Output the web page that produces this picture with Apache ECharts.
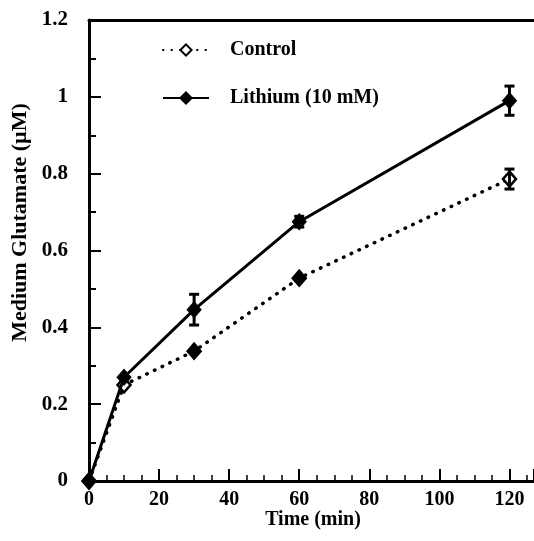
<!DOCTYPE html>
<html><head><meta charset="utf-8">
<script src="https://cdn.jsdelivr.net/npm/echarts@6/dist/echarts.min.js"></script>
<style>html,body{margin:0;padding:0;background:#fff}#c{width:534px;height:541px}</style>
</head><body><div id="c"></div>
<script>
const times = [0, 10, 30, 60, 120];
const controlValues = [0, 0.25, 0.338, 0.528, 0.786];
const controlErrors = [0, 0, 0, 0, 0.026];
const lithiumValues = [0, 0.27, 0.446, 0.675, 0.99];
const lithiumErrors = [0, 0, 0.04, 0.014, 0.038];
const xTickStep = 20;
const yTickStep = 0.2;
const xTitle = 'Time (min)';
const yTitle = 'Medium Glutamate (µM)';

const FONT = '"Liberation Serif", "Times New Roman", serif';
const chart = echarts.init(document.getElementById('c'), null, {renderer: 'canvas'});

function errData(vals, errs) {
  const out = [];
  for (let i = 0; i < times.length; i++) if (errs[i] > 0) out.push([times[i], vals[i] - errs[i], vals[i] + errs[i]]);
  return out;
}
function errSeries(vals, errs) {
  return {
    type: 'custom', silent: true, z: 5,
    data: errData(vals, errs),
    renderItem: function (params, api) {
      const lo = api.coord([api.value(0), api.value(1)]);
      const hi = api.coord([api.value(0), api.value(2)]);
      const w = 5;
      const st = {stroke: '#000', lineWidth: 3};
      return {type: 'group', children: [
        {type: 'line', shape: {x1: lo[0], y1: lo[1], x2: hi[0], y2: hi[1]}, style: st},
        {type: 'line', shape: {x1: lo[0] - w, y1: lo[1], x2: lo[0] + w, y2: lo[1]}, style: st},
        {type: 'line', shape: {x1: hi[0] - w, y1: hi[1], x2: hi[0] + w, y2: hi[1]}, style: st}
      ]};
    }
  };
}

const controlData = times.map((t, i) => ({
  value: [t, controlValues[i]],
  itemStyle: (t === 30 || t === 60) ? {color: '#000'} : {color: '#fff'}
}));

chart.setOption({
  animation: false,
  grid: {left: 89, right: 0, top: 20, bottom: 60},
  legend: {
    orient: 'vertical', left: 157, top: 35, itemGap: 28,
    itemWidth: 46, itemHeight: 14,
    textStyle: {fontFamily: FONT, fontWeight: 'bold', fontSize: 20, color: '#000', padding: [0, 0, 0, 16]},
    data: ['Control', 'Lithium (10 mM)']
  },
  graphic: [{
    type: 'text', x: 313, y: 530, z: 10,
    style: {text: xTitle, font: 'bold 20px ' + FONT, fill: '#000', align: 'center', verticalAlign: 'bottom'}
  }],
  xAxis: [{
    type: 'value', min: 0, max: 127, interval: xTickStep,
    axisLine: {show: true, lineStyle: {color: '#000', width: 3}},
    axisTick: {show: true, inside: true, length: 12, lineStyle: {width: 2, color: '#000'}},
    minorTick: {show: true, splitNumber: 4, length: 6, lineStyle: {width: 1.5, color: '#000'}},
    splitLine: {show: false},
    axisLabel: {fontFamily: FONT, fontWeight: 'bold', fontSize: 20, color: '#000', margin: 9, showMaxLabel: false}
  }, {
    type: 'value', position: 'top', min: 0, max: 127,
    axisLine: {show: true, lineStyle: {color: '#000', width: 3}},
    axisTick: {show: false}, axisLabel: {show: false}, splitLine: {show: false}
  }],
  yAxis: {
    type: 'value', min: 0, max: 1.2, interval: yTickStep,
    name: yTitle, nameLocation: 'middle', nameGap: 52, nameRotate: 90,
    nameTextStyle: {fontFamily: FONT, fontWeight: 'bold', fontSize: 22, color: '#000', padding: [0, 0, 0, 56]},
    axisLine: {show: true, lineStyle: {color: '#000', width: 3}},
    axisTick: {show: true, inside: true, length: 12, lineStyle: {width: 2, color: '#000'}},
    minorTick: {show: true, splitNumber: 2, length: 7, lineStyle: {width: 2, color: '#000'}},
    splitLine: {show: false},
    axisLabel: {fontFamily: FONT, fontWeight: 'bold', fontSize: 21, color: '#000', margin: 21}
  },
  series: [
    {
      name: 'Control', type: 'line', z: 3,
      data: controlData,
      symbol: 'diamond', symbolSize: [13, 15],
      lineStyle: {color: '#000', width: 3.5, type: [0.5, 8], cap: 'round'},
      itemStyle: {color: '#fff', borderColor: '#000', borderWidth: 2.5}
    },
    {
      name: 'Lithium (10 mM)', type: 'line', z: 4,
      data: times.map((t, i) => [t, lithiumValues[i]]),
      symbol: 'diamond', symbolSize: [14, 16],
      lineStyle: {color: '#000', width: 3},
      itemStyle: {color: '#000', borderColor: '#000', borderWidth: 1}
    },
    errSeries(controlValues, controlErrors),
    errSeries(lithiumValues, lithiumErrors)
  ]
});
</script></body></html>
